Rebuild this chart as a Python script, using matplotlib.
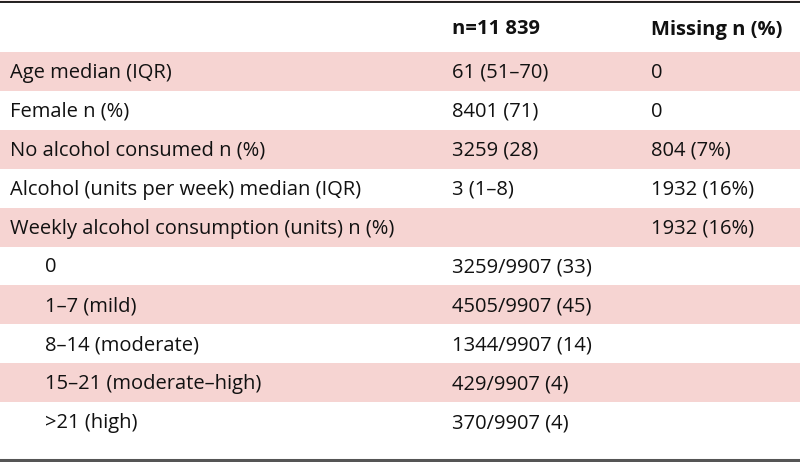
import matplotlib.pyplot as plt

# table content
header = ["", "n=11 839", "Missing n (%)"]
row_labels = ["Age median (IQR)", "Female n (%)", "No alcohol consumed n (%)",
              "Alcohol (units per week) median (IQR)",
              "Weekly alcohol consumption (units) n (%)"]
row_values = ["61 (51\u201370)", "8401 (71)", "3259 (28)", "3 (1\u20138)", ""]
row_missing = ["0", "0", "804 (7%)", "1932 (16%)", "1932 (16%)"]

sub_labels = ["0", "1\u20137 (mild)", "8\u201314 (moderate)",
              "15\u201321 (moderate\u2013high)", ">21 (high)"]
sub_values = ["3259/9907 (33)", "4505/9907 (45)", "1344/9907 (14)",
              "429/9907 (4)", "370/9907 (4)"]

W, H = 800, 462
fig = plt.figure(figsize=(W / 100, H / 100), dpi=100)
ax = fig.add_axes([0, 0, 1, 1])
ax.set_xlim(0, W)
ax.set_ylim(H, 0)
ax.axis("off")

font = "Open Sans"
fs = 14.5
shade = "#f6d4d2"
col_x = [10, 452, 651]
indent = 35
top = 52
rh = 38.9
dy = 1.5  # nudge text down a bit

# header
for x, txt in zip(col_x, header):
    ax.text(x, 28 + dy, txt, fontsize=fs, fontweight="bold", family=font,
            va="center", ha="left", color="#111111")

labels = row_labels + sub_labels
values = row_values + sub_values
missing = row_missing + [""] * len(sub_labels)
offsets = [0] * len(row_labels) + [indent] * len(sub_labels)

for i, (lab, val, mis, off) in enumerate(zip(labels, values, missing, offsets)):
    y0 = top + i * rh
    if i % 2 == 0:
        ax.axhspan(y0, y0 + rh, color=shade, lw=0, zorder=0)
    yc = y0 + rh / 2 + dy
    ax.text(col_x[0] + off, yc, lab, fontsize=fs, family=font, va="center", color="#111111")
    ax.text(col_x[1], yc, val, fontsize=fs, family=font, va="center", color="#111111")
    ax.text(col_x[2], yc, mis, fontsize=fs, family=font, va="center", color="#111111")

# rules
ax.axhline(0.5, color="#e9b5b0", lw=1.0)
ax.axhline(1.8, color="#111111", lw=1.3)
ax.axhline(459.5, color="#555555", lw=2.2)

fig.savefig("out.png", dpi=100)
